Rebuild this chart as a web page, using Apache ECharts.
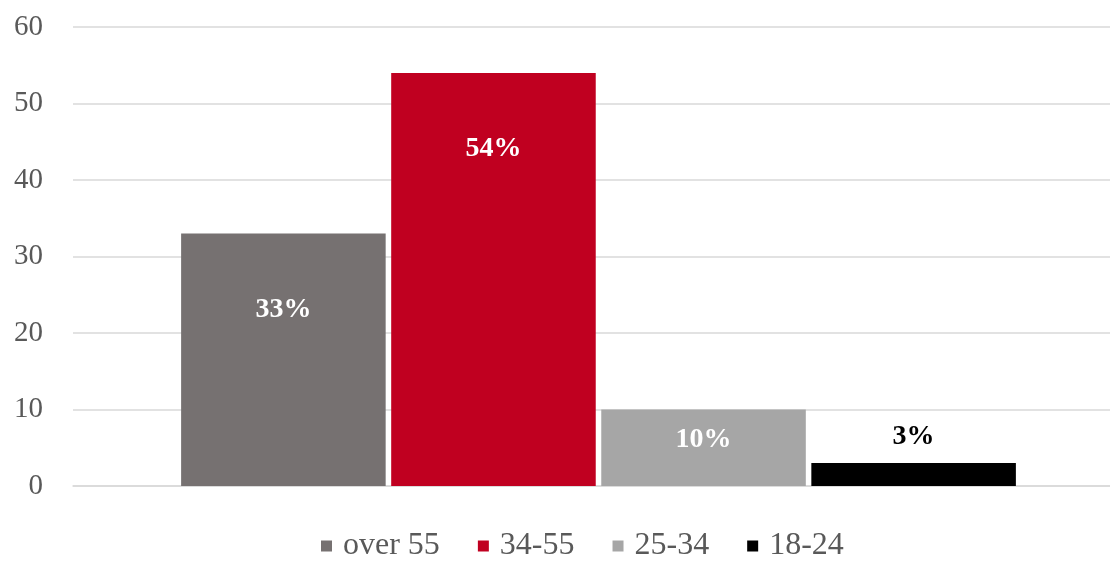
<!DOCTYPE html>
<html>
<head>
<meta charset="utf-8">
<script src="https://cdn.jsdelivr.net/npm/echarts@6/dist/echarts.min.js"></script>
<style>
  html, body { margin: 0; padding: 0; background: #fff; }
  #chart { width: 1110px; height: 569px; }
</style>
</head>
<body>
<div id="chart"></div>
<script>
// Age groups and their share of respondents (percent)
const ageGroups = ['over 55', '34-55', '25-34', '18-24'];
const shares = [33, 54, 10, 3];
const barColors = ['#767171', '#C00020', '#A6A6A6', '#000000'];
const yTicks = [0, 10, 20, 30, 40, 50, 60];

// Per-bar label placement: inside near the top, except the smallest bar
const labelPlacement = [
  { position: 'insideTop', distance: 62, color: '#ffffff' },
  { position: 'insideTop', distance: 62, color: '#ffffff' },
  { position: 'insideTop', distance: 16, color: '#ffffff' },
  { position: 'top', distance: 12, color: '#000000' }
];

const serif = '"Liberation Serif", "DejaVu Serif", serif';
const yMin = yTicks[0];
const yMax = yTicks[yTicks.length - 1];

const chart = echarts.init(document.getElementById('chart'));

const series = ageGroups.map((name, i) => ({
  name: name,
  type: 'bar',
  xAxisIndex: 1,
  yAxisIndex: 1,
  data: [shares[i]],
  itemStyle: { color: barColors[i] },
  barGap: '2.7%',
  barCategoryGap: '18.4%',
  label: {
    show: true,
    position: labelPlacement[i].position,
    distance: labelPlacement[i].distance,
    formatter: '{c}%',
    color: labelPlacement[i].color,
    fontFamily: serif,
    fontWeight: 'bold',
    fontSize: 28
  }
}));

chart.setOption({
  animation: false,
  backgroundColor: '#ffffff',
  color: barColors,
  // grid 0 carries the value scale and gridlines, grid 1 holds the bar group
  grid: [
    { left: 73, right: 0, top: 27, bottom: 83, containLabel: false },
    { left: 87, right: 0, top: 27, bottom: 83, containLabel: false }
  ],
  legend: {
    data: ageGroups,
    bottom: 2,
    left: 316,
    icon: 'rect',
    itemWidth: 11,
    itemHeight: 11,
    itemGap: 38,
    textStyle: {
      fontFamily: serif,
      fontSize: 32,
      color: '#595959',
      padding: [0, 0, 0, 6]
    }
  },
  xAxis: [
    {
      type: 'category',
      gridIndex: 0,
      data: [''],
      axisLine: { show: true, lineStyle: { color: '#d9d9d9', width: 1.5 } },
      axisTick: { show: false },
      axisLabel: { show: false }
    },
    {
      type: 'category',
      gridIndex: 1,
      data: [''],
      axisLine: { show: false },
      axisTick: { show: false },
      axisLabel: { show: false }
    }
  ],
  yAxis: [
    {
      type: 'value',
      gridIndex: 0,
      min: yMin,
      max: yMax,
      interval: 10,
      axisLine: { show: false },
      axisTick: { show: false },
      axisLabel: {
        margin: 30,
        fontFamily: serif,
        fontSize: 29,
        color: '#595959'
      },
      splitLine: { lineStyle: { color: '#d9d9d9', width: 1.5 } }
    },
    {
      type: 'value',
      gridIndex: 1,
      min: yMin,
      max: yMax,
      interval: 10,
      axisLine: { show: false },
      axisTick: { show: false },
      axisLabel: { show: false },
      splitLine: { show: false }
    }
  ],
  series: series
});
</script>
</body>
</html>
